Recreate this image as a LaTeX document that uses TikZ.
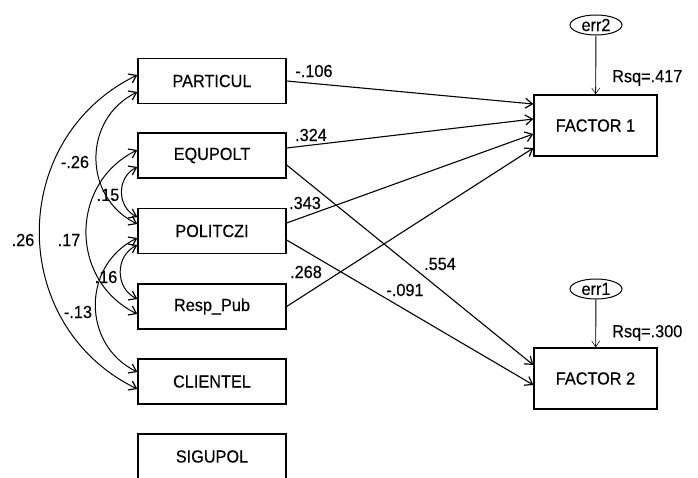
\documentclass[tikz,border=0pt]{standalone}
\usepackage{fontspec}
\setmainfont{Liberation Sans}[FakeStretch=0.93,FakeBold=0.3]
\usetikzlibrary{arrows.meta,shapes.geometric}
\begin{document}
\begin{tikzpicture}[x=1pt,y=1pt,
  every node/.style={font=\fontsize{17.5}{19}\selectfont, inner sep=0pt},
  var/.style={draw, line width=1.3pt, minimum width=148pt, minimum height=45pt},
  fac/.style={draw, line width=1.3pt, minimum width=123pt, minimum height=61pt},
  errn/.style={draw, ellipse, line width=1pt, minimum width=52pt, minimum height=20pt},
  barb/.tip={Straight Barb[length=7pt,width=10pt,line width=1.2pt]},
  path/.style={line width=1.1pt, -barb},
  cov/.style={line width=1pt, barb-barb, out=206, in=154, looseness=1.184},
  errarrow/.style={line width=0.9pt, -{Straight Barb[length=6pt,width=8pt,line width=0.5pt]}}
]
\useasboundingbox (0,0) rectangle (698,-478);

% variables
\node[var] (pa) at (212,-81) {PARTICUL};
\node[var] (eq) at (212,-155.5) {EQUPOLT};
\node[var] (po) at (212,-231) {POLITCZI};
\node[var] (rp) at (212,-306.5) {Resp\_Pub};
\node[var] (cl) at (212,-381.5) {CLIENTEL};
\node[var] (si) at (212,-456.5) {SIGUPOL};

\node[fac] (f1) at (595.5,-125.5) {FACTOR 1};
\node[fac] (f2) at (595.5,-378.5) {FACTOR 2};

\node[errn] (e2) at (596,-25) {err2};
\node[errn] (e1) at (596,-289) {err1};

\node[anchor=west] (r1) at (612,-78) {Rsq=.417};
\node[anchor=west] (r2) at (612,-333) {Rsq=.300};

% anchor coordinates, right side of variables
\coordinate (paR) at (pa.east);
\coordinate (eqR1) at ([yshift=7.5pt]eq.east);
\coordinate (eqR2) at ([yshift=-9.5pt]eq.east);
\coordinate (poR1) at ([yshift=8pt]po.east);
\coordinate (poR2) at ([yshift=-9pt]po.east);
\coordinate (rpR) at (rp.east);
% factor inputs
\coordinate (f1a) at ([yshift=21.5pt]f1.west);
\coordinate (f1b) at ([yshift=6.5pt]f1.west);
\coordinate (f1c) at ([yshift=-8.5pt]f1.west);
\coordinate (f1d) at ([yshift=-22.5pt]f1.west);
\coordinate (f2a) at ([yshift=13.5pt]f2.west);
\coordinate (f2b) at ([yshift=-6.5pt]f2.west);

% regression paths
\draw[path] (paR) -- (f1a);
\draw[path] (eqR1) -- (f1b);
\draw[path] (eqR2) -- (f2a);
\draw[path] (poR1) -- (f1c);
\draw[path] (poR2) -- (f2b);
\draw[path] (rpR) -- (f1d);

\node (l1) at (314,-71) {-.106};
\node (l2) at (311,-135) {.324};
\node (l3) at (305,-203) {.343};
\node (l4) at (306,-272) {.268};
\node (l5) at (440,-264) {.554};
\node (l6) at (405,-290) {-.091};

% error arrows
\draw[errarrow] (e2) -- (f1);
\draw[errarrow] (e1) -- (f2);

% left side coordinates
\coordinate (paL1) at ([yshift=6pt]pa.west);
\coordinate (paL2) at ([yshift=-11pt]pa.west);
\coordinate (eqL1) at ([yshift=5.5pt]eq.west);
\coordinate (eqL2) at ([yshift=-11.5pt]eq.west);
\coordinate (poL1) at ([yshift=14pt]po.west);
\coordinate (poL2) at ([yshift=7pt]po.west);
\coordinate (poL3) at ([yshift=-7pt]po.west);
\coordinate (poL4) at ([yshift=-14pt]po.west);
\coordinate (rpL1) at ([yshift=7.5pt]rp.west);
\coordinate (rpL2) at ([yshift=-7.5pt]rp.west);
\coordinate (clL1) at ([yshift=9.5pt]cl.west);
\coordinate (clL2) at ([yshift=-7.5pt]cl.west);

% covariances
\draw[cov] (paL1) to (clL2);
\draw[cov] (paL2) to (poL2);
\draw[cov] (eqL2) to (poL1);
\draw[cov] (eqL1) to (rpL2);
\draw[cov] (poL4) to (rpL1);
\draw[cov] (poL3) to (clL1);

\node (c1) at (23,-240) {.26};
\node (c2) at (75,-162) {-.26};
\node (c3) at (108,-195) {.15};
\node (c4) at (69,-240) {.17};
\node (c5) at (106,-277) {.16};
\node (c6) at (78,-312) {-.13};
\end{tikzpicture}
\end{document}
